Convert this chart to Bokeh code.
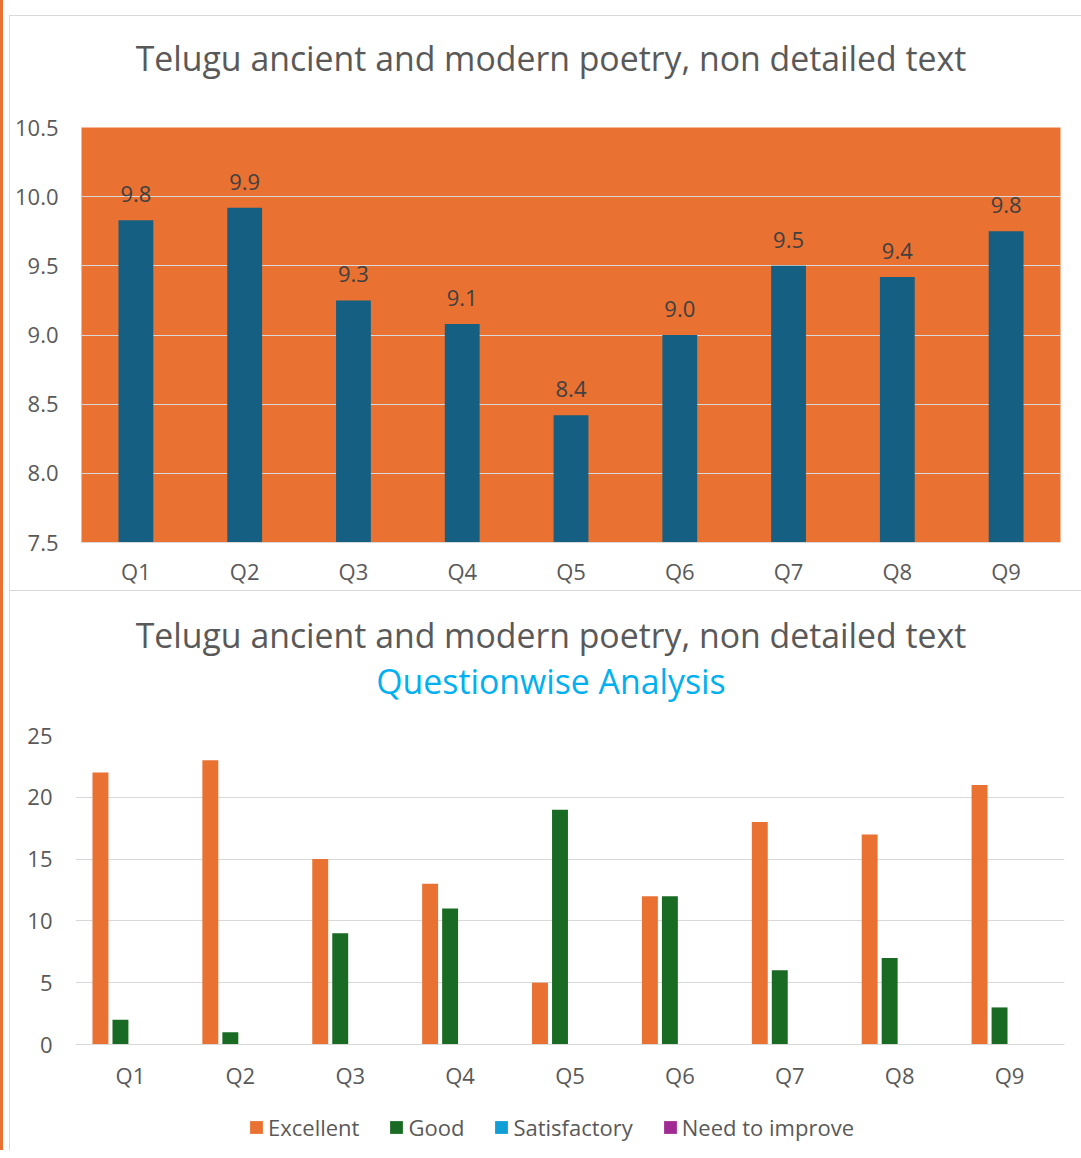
from bokeh.plotting import figure
from bokeh.models import (ColumnDataSource, FactorRange, Range1d, FixedTicker,
                          NumeralTickFormatter, Legend, LegendItem, Div)
from bokeh.layouts import column
from bokeh.transform import dodge
from bokeh.embed import file_html
from bokeh.resources import INLINE
from bokeh.core.properties import value

# ---------------- data ----------------
questions = ["Q1", "Q2", "Q3", "Q4", "Q5", "Q6", "Q7", "Q8", "Q9"]
avg_scores = [9.83, 9.92, 9.25, 9.08, 8.42, 9.0, 9.5, 9.42, 9.75]
avg_labels = ["9.8", "9.9", "9.3", "9.1", "8.4", "9.0", "9.5", "9.4", "9.8"]
excellent = [22, 23, 15, 13, 5, 12, 18, 17, 21]
good = [2, 1, 9, 11, 19, 12, 6, 7, 3]
satisfactory = [0, 0, 0, 0, 0, 0, 0, 0, 0]
need_to_improve = [0, 0, 0, 0, 0, 0, 0, 0, 0]
y1_ticks = [7.5, 8.0, 8.5, 9.0, 9.5, 10.0, 10.5]
y2_ticks = [0, 5, 10, 15, 20, 25]
title_text = "Telugu ancient and modern poetry, non detailed text"
subtitle_text = "Questionwise Analysis"
series_names = ["Excellent", "Good", "Satisfactory", "Need to improve"]

# ---------------- style ----------------
FONT = "Open Sans"
TXT = "#595959"
GRID = "#d9d9d9"
ORANGE = "#E97132"
NAVY = "#156082"
series_colors = ["#E97132", "#196B24", "#0F9ED5", "#A02B93"]
FIG_EDGE = {"margin-left": "6px", "border-left": "1px solid #d9d9d9"}
W = 1071


def new_fig(**kw):
    p = figure(output_backend="svg", toolbar_location=None,
               border_fill_color="white", styles=FIG_EDGE, **kw)
    if "frame_align" in p.properties():
        p.frame_align = False
    return p


def style_axes(p, ticks, fmt, ystand, xstand):
    p.xaxis.axis_line_color = GRID
    p.xaxis.major_tick_line_color = None
    p.xaxis.minor_tick_line_color = None
    p.xaxis.major_label_text_font = FONT
    p.xaxis.major_label_text_font_size = "22px"
    p.xaxis.major_label_text_color = TXT
    p.xaxis.major_label_standoff = xstand
    p.yaxis.axis_line_color = None
    p.yaxis.major_tick_line_color = None
    p.yaxis.minor_tick_line_color = None
    p.yaxis.major_label_text_font = FONT
    p.yaxis.major_label_text_font_size = "22px"
    p.yaxis.major_label_text_color = TXT
    p.yaxis.major_label_standoff = ystand
    p.yaxis.ticker = FixedTicker(ticks=ticks)
    p.yaxis.formatter = NumeralTickFormatter(format=fmt)
    p.xgrid.grid_line_color = None
    p.ygrid.grid_line_color = GRID
    p.ygrid.ticker = FixedTicker(ticks=ticks)
    p.outline_line_color = None


def title_div(inner, height, top_gap, pad_top):
    html = (
        '<div style="margin-left:6px; margin-top:%dpx; width:1075px; height:%dpx; '
        'box-sizing:border-box; border-left:1px solid #d9d9d9; '
        'border-top:1px solid #d9d9d9; padding-top:%dpx; padding-left:8px; '
        'text-align:center; font-family:\'Open Sans\'; font-size:33.8px; '
        'line-height:46px; color:%s; white-space:nowrap;">%s</div>'
        % (top_gap, height - top_gap, pad_top, TXT, inner)
    )
    return Div(text=html, width=W + 7, height=height, margin=0)


# ---------------- top chart ----------------
head1 = title_div(title_text, 100, 15, 19)

p1 = new_fig(width=W, height=490, x_range=FactorRange(factors=questions),
             y_range=Range1d(y1_ticks[0], y1_ticks[-1]),
             min_border_left=71, min_border_right=21,
             min_border_top=27, min_border_bottom=48,
             background_fill_color=ORANGE)
style_axes(p1, y1_ticks, "0.0", 17, 7)

src1 = ColumnDataSource(dict(q=questions, v=avg_scores, lab=avg_labels))
p1.vbar(x="q", top="v", bottom=p1.y_range.start, width=0.32, source=src1,
        fill_color=NAVY, line_color=None)
p1.text(x="q", y="v", text="lab", source=src1, text_align="center",
        text_baseline="middle", y_offset=-26, text_font=value(FONT),
        text_font_size="22px", text_color="#404040")

# ---------------- bottom chart ----------------
head2 = title_div('%s<br><span style="color:#00B0F0;">%s</span>'
                  % (title_text, subtitle_text), 115, 0, 21)

p2 = new_fig(width=W, height=395, x_range=FactorRange(factors=questions),
             y_range=Range1d(y2_ticks[0], y2_ticks[-1]),
             min_border_left=65, min_border_right=17,
             min_border_top=30, min_border_bottom=56,
             background_fill_color="white")
style_axes(p2, y2_ticks, "0", 17, 9)

src2 = ColumnDataSource(dict(q=questions, e=excellent, g=good,
                             s=satisfactory, n=need_to_improve))
offsets = [-0.273, -0.091, 0.091, 0.273]
cols = ["e", "g", "s", "n"]
for c, off, color in zip(cols, offsets, series_colors):
    p2.vbar(x=dodge("q", off, range=p2.x_range), top=c, width=0.145,
            source=src2, fill_color=color, line_color=None)

# ---------------- legend strip ----------------
p3 = new_fig(width=W, height=50, x_range=Range1d(0, 1), y_range=Range1d(0, 1),
             x_axis_type=None, y_axis_type=None,
             min_border_left=0, min_border_right=0,
             min_border_top=0, min_border_bottom=0)
p3.grid.visible = False
p3.outline_line_color = None
# zero-height swatch carriers: they draw nothing, they only feed the legend
swatch_src = ColumnDataSource(dict(x=[0.5], top=[0]))
swatches = []
for color in series_colors:
    swatches.append(p3.vbar(x="x", top="top", width=0.01, source=swatch_src,
                            fill_color=color, line_color=None))
legend_x = 238 if "frame_align" in p3.properties() else 167
legend = Legend(items=[LegendItem(label=nm, renderers=[r])
                       for nm, r in zip(series_names, swatches)],
                orientation="horizontal", location=(legend_x, 8),
                glyph_width=16, glyph_height=16, label_standoff=4, spacing=29,
                label_height=28, padding=0, margin=0, border_line_color=None,
                background_fill_alpha=0, label_text_font=FONT,
                label_text_font_size="22px", label_text_color=TXT)
p3.add_layout(legend)

layout = column(head1, p1, head2, p2, p3, spacing=0,
                styles={"border-left": "3px solid #E97132"})
open("out.html", "w").write(file_html(layout, INLINE))
